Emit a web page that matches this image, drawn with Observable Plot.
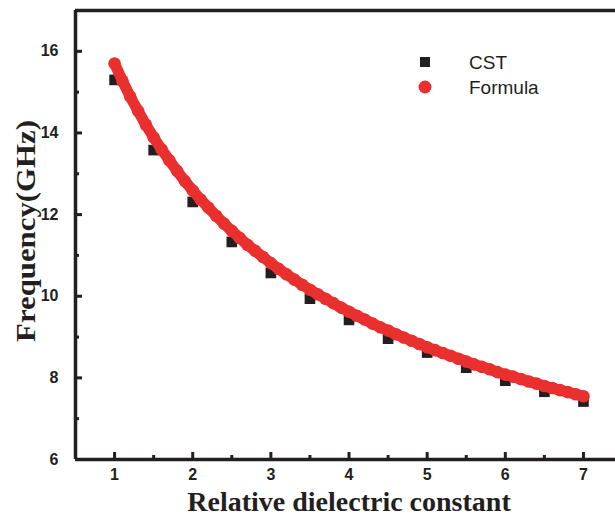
<!DOCTYPE html>
<html><head><meta charset="utf-8">
<script src="https://cdn.jsdelivr.net/npm/d3@7"></script>
<script src="https://cdn.jsdelivr.net/npm/@observablehq/plot@0.6"></script>
<style>
body{margin:0;background:#fff;}
#wrap{position:relative;width:615px;height:518px;overflow:hidden;}
.lg{position:absolute;font:19px "Liberation Sans",Arial,sans-serif;color:#231f20;line-height:1;}
.xt{position:absolute;font:bold 28px "Liberation Serif","Times New Roman",serif;color:#231f20;white-space:nowrap;line-height:1;}
</style></head><body><div id="wrap"></div>
<script>
// CST simulation (squares)
const epsCST = [1, 1.5, 2, 2.5, 3, 3.5, 4, 4.5, 5, 5.5, 6, 6.5, 7];
const freqCST = [15.30, 13.58, 12.31, 11.33, 10.57, 9.94, 9.42, 8.96, 8.62, 8.25, 7.93, 7.66, 7.42];
// Formula (red dots)
const epsFormula = [1.0,1.1,1.2,1.3,1.4,1.5,1.6,1.7,1.8,1.9,2.0,2.1,2.2,2.3,2.4,2.5,2.6,2.7,2.8,2.9,3.0,3.1,3.2,3.3,3.4,3.5,3.6,3.7,3.8,3.9,4.0,4.1,4.2,4.3,4.4,4.5,4.6,4.7,4.8,4.9,5.0,5.1,5.2,5.3,5.4,5.5,5.6,5.7,5.8,5.9,6.0,6.1,6.2,6.3,6.4,6.5,6.6,6.7,6.8,6.9,7.0];
const freqFormula = [15.70,15.28,14.89,14.54,14.20,13.89,13.60,13.33,13.07,12.82,12.59,12.37,12.17,11.97,11.78,11.60,11.43,11.26,11.11,10.96,10.81,10.67,10.54,10.41,10.28,10.16,10.05,9.94,9.83,9.72,9.62,9.52,9.43,9.33,9.24,9.16,9.07,8.99,8.91,8.83,8.75,8.68,8.61,8.54,8.47,8.40,8.33,8.27,8.21,8.14,8.08,8.03,7.97,7.91,7.86,7.80,7.75,7.70,7.65,7.60,7.55];
// Axes
const xDomain = [0.5, 7.41];
const yDomain = [6, 17];
const xMajor = [1, 2, 3, 4, 5, 6, 7];
const xMinor = [0.5, 1.5, 2.5, 3.5, 4.5, 5.5, 6.5];
const yMajor = [6, 8, 10, 12, 14, 16];
const yMinor = [7, 9, 11, 13, 15];
const xTitle = "Relative dielectric constant";
const yTitle = "Frequency(GHz)";
const seriesNames = ["CST", "Formula"];

const BLACK = "#231f20", RED = "#ea2f2f";
const cst = epsCST.map((e, i) => ({eps: e, f: freqCST[i]}));
const formula = epsFormula.map((e, i) => ({eps: e, f: freqFormula[i]}));

const plot = Plot.plot({
  width: 615, height: 518,
  marginLeft: 75, marginRight: 0, marginTop: 10, marginBottom: 59,
  style: {fontFamily: "'Liberation Sans', Arial, sans-serif", fontSize: "16px", fontWeight: "bold", color: BLACK, background: "white"},
  x: {domain: xDomain},
  y: {domain: yDomain},
  marks: [
    Plot.axisX(xMajor, {tickSize: 0, tickPadding: 9, label: null, fill: BLACK}),
    Plot.axisX(xMajor, {tickSize: -7, text: null, strokeWidth: 3, stroke: BLACK, label: null}),
    Plot.axisX(xMinor, {tickSize: -4, text: null, strokeWidth: 3, stroke: BLACK, label: null}),
    Plot.axisY(yMajor, {tickSize: 0, tickPadding: 17, label: null, fill: BLACK}),
    Plot.axisY(yMajor, {tickSize: -7, text: null, strokeWidth: 3, stroke: BLACK, label: null}),
    Plot.axisY(yMinor, {tickSize: -4, text: null, strokeWidth: 3, stroke: BLACK, label: null}),
    Plot.ruleX([xDomain[0]], {stroke: BLACK, strokeWidth: 3.5}),
    Plot.ruleY([yDomain[0]], {stroke: BLACK, strokeWidth: 3.5}),
    Plot.ruleY([yDomain[1]], {stroke: BLACK, strokeWidth: 3.5}),
    Plot.dot(cst, {x: "eps", y: "f", symbol: "square", r: 6, fill: BLACK}),
    Plot.line(formula, {x: "eps", y: "f", stroke: RED, strokeWidth: 11, strokeLinecap: "round"}),
    Plot.dot(formula, {x: "eps", y: "f", r: 6.3, fill: RED})
  ]
});
const wrap = document.getElementById("wrap");
wrap.appendChild(plot);

// axis titles
const xt = document.createElement("div");
xt.className = "xt"; xt.textContent = xTitle;
xt.style.left = "349px"; xt.style.top = "502px";
xt.style.transform = "translate(-50%,-50%)";
wrap.appendChild(xt);
const yt = document.createElement("div");
yt.className = "xt"; yt.textContent = yTitle;
yt.style.left = "26px"; yt.style.top = "231px";
yt.style.transform = "translate(-50%,-50%) rotate(-90deg) scaleX(1.1)";
wrap.appendChild(yt);

// legend
const lg = [
  {name: seriesNames[0], sym: `<span style="display:inline-block;width:10px;height:10px;background:${BLACK}"></span>`, y: 62},
  {name: seriesNames[1], sym: `<span style="display:inline-block;width:13px;height:13px;border-radius:50%;background:${RED}"></span>`, y: 87}
];
lg.forEach(d => {
  const s = document.createElement("div");
  s.className = "lg";
  s.style.left = "425px"; s.style.top = d.y + "px";
  s.style.transform = "translate(-50%,-50%)";
  s.style.lineHeight = "0";
  s.innerHTML = d.sym;
  wrap.appendChild(s);
  const t = document.createElement("div");
  t.className = "lg"; t.textContent = d.name;
  t.style.left = "469px"; t.style.top = d.y + "px";
  t.style.transform = "translateY(-50%)";
  wrap.appendChild(t);
});
</script></body></html>
